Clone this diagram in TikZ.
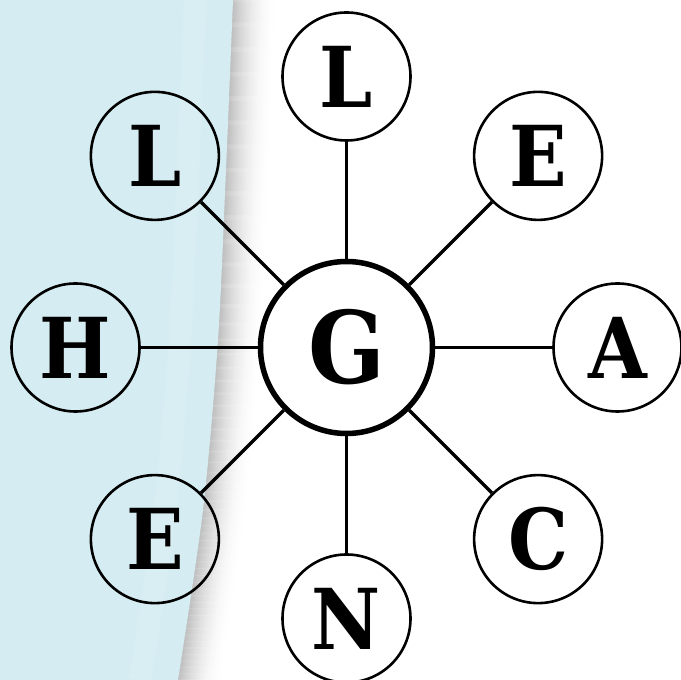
\documentclass[tikz,border=0pt]{standalone}
\usepackage{fontspec}
\usepackage{tikz}
\newfontfamily\spokefont{DejaVu Serif Condensed}
\definecolor{paperblue}{RGB}{213,237,242}

\begin{document}
\begin{tikzpicture}[x=1pt,y=1pt,
    letter/.style={circle,draw,line width=2.6pt,minimum size=128pt,inner sep=0pt,
      font=\spokefont\bfseries\fontsize{84}{84}\selectfont},
    hub/.style={letter,line width=5.5pt,minimum size=172pt,
      font=\spokefont\bfseries\fontsize{100}{100}\selectfont},
    spoke/.style={line width=3.4pt}]
  \useasboundingbox (0,0) rectangle (681,680);
  %
  % shadow of the paper edge
  \foreach \i in {0,...,44}{
    \pgfmathsetmacro\shd{26*(1-\i/45)^2}
    \draw[black!\shd,line width=1.3pt,xshift=\i pt] plot[smooth] coordinates {(233,680) (226,510) (218,340) (203,170) (178,0)};
  }
  \fill[paperblue] (0,0) -- (0,680) -- plot[smooth] coordinates {(233,680) (226,510) (218,340) (203,170) (178,0)} -- cycle;
  \draw[white,opacity=.1,line width=22pt,xshift=-38pt] plot[smooth] coordinates {(233,680) (226,510) (218,340) (203,170) (178,0)};
  %
  \node[hub] (g) at (346.5,332.5) {G};
  \foreach \ang/\txt/\nm in {90/L/top,45/E/topright,0/A/right,-45/C/botright,-90/N/bottom,-135/E/botleft,180/H/left,135/L/topleft}{
    \node[letter] (\nm) at ([shift={(\ang:271)}]g) {\txt};
    \draw[spoke] (g) -- (\nm);
  }
\end{tikzpicture}
\end{document}
